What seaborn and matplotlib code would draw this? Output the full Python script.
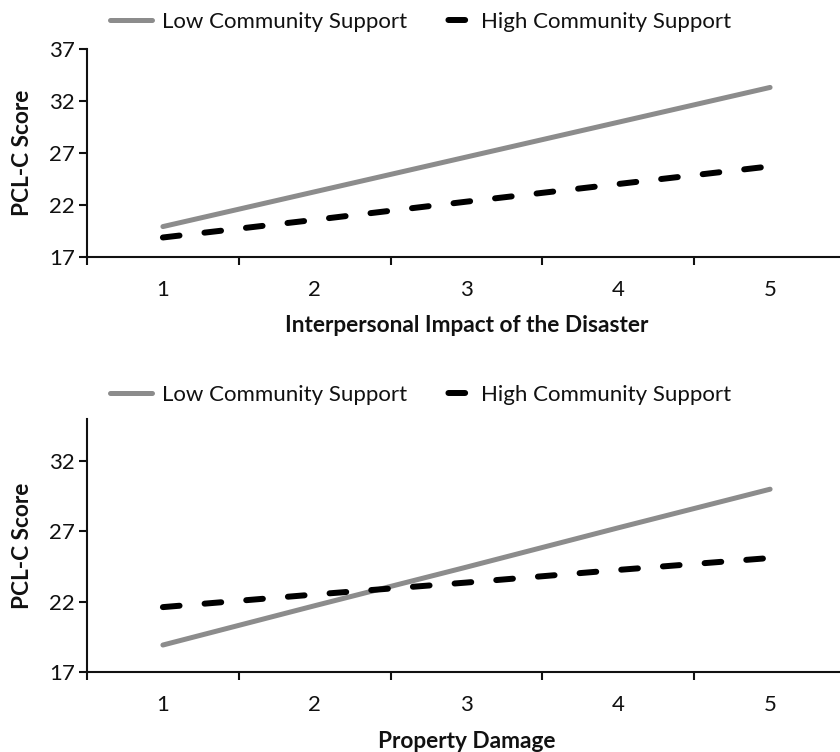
import matplotlib
matplotlib.use("Agg")
import matplotlib.pyplot as plt
from matplotlib.lines import Line2D
from matplotlib.ticker import FixedLocator, NullFormatter
import numpy as np
import pandas as pd
import seaborn as sns

# Predicted PCL-C scores at each level of the moderator
levels = [1, 2, 3, 4, 5]
tick_labels = ["1", "2", "3", "4", "5"]

interp_low = [19.9, 23.25, 26.6, 29.95, 33.3]
interp_high = [18.85, 20.55, 22.3, 24.0, 25.7]

property_low = [18.9, 21.7, 24.45, 27.25, 30.0]
property_high = [21.6, 22.5, 23.35, 24.25, 25.1]

series_names = ["Low Community Support", "High Community Support"]
panel_xlabels = ["Interpersonal Impact of the Disaster", "Property Damage"]
ylabel = "PCL-C Score"
top_yticks = [17, 22, 27, 32, 37]
bottom_yticks = [17, 22, 27, 32]

sns.set_style("white")
plt.rcParams["font.family"] = ["Lato", "DejaVu Sans"]

GRAY = "#8c8c8c"
INK = "#111111"
W, H = 840, 752
fig = plt.figure(figsize=(W / 100, H / 100), dpi=100)
fig.patch.set_facecolor("white")


def px_box(left, top, right, bottom):
    return [left / W, 1 - bottom / H, (right - left) / W, (bottom - top) / H]


ax_top = fig.add_axes(px_box(87, 49, 846, 256.7))
ax_bot = fig.add_axes(px_box(87, 419, 846, 671.7))

LOW_LW = 3.6   # points
HIGH_LW = 4.3
HIGH_DASH = (2.8, 4.2)
TICK_FS = 16
LABEL_FS = 16.3


def draw_panel(ax, low, high, ylim, yticks, xlabel, xlabel_y):
    frame = pd.DataFrame({
        "level": levels * 2,
        "score": low + high,
        "group": [series_names[0]] * len(levels) + [series_names[1]] * len(levels),
    })
    sns.lineplot(data=frame[frame.group == series_names[0]], x="level", y="score",
                 ax=ax, color=GRAY, lw=LOW_LW, solid_capstyle="round",
                 legend=False, errorbar=None)
    sns.lineplot(data=frame[frame.group == series_names[1]], x="level", y="score",
                 ax=ax, color="black", lw=HIGH_LW, dashes=HIGH_DASH,
                 dash_capstyle="round", legend=False, errorbar=None)

    ax.set_xlim(0.5, 5.5)
    ax.set_ylim(*ylim)
    ax.set_facecolor("white")
    for side in ("top", "right"):
        ax.spines[side].set_visible(False)
    for side in ("left", "bottom"):
        ax.spines[side].set_color(INK)
        ax.spines[side].set_linewidth(1.5)

    # category labels sit between the tick marks
    ax.set_xticks(levels)
    ax.set_xticklabels(tick_labels)
    ax.xaxis.set_minor_locator(FixedLocator(np.arange(0.5, 6.0, 1.0)))
    ax.xaxis.set_minor_formatter(NullFormatter())
    ax.tick_params(axis="x", which="major", length=0, pad=17, labelsize=TICK_FS,
                   labelcolor=INK)
    ax.tick_params(axis="x", which="minor", direction="out", length=5.5,
                   width=1.5, color=INK, bottom=True)
    ax.set_yticks(yticks)
    ax.tick_params(axis="y", direction="out", length=5.5, width=1.5, color=INK,
                   pad=3, labelsize=TICK_FS, labelcolor=INK, left=True)
    ax.grid(False)

    ax.set_xlabel(xlabel, fontsize=LABEL_FS, fontweight="bold", color=INK)
    ax.xaxis.label.set_va("center")
    ax.xaxis.set_label_coords(0.5, xlabel_y)
    ax.set_ylabel(ylabel, fontsize=LABEL_FS, fontweight="bold", color=INK)
    ax.yaxis.label.set_va("center")
    ax.yaxis.set_label_coords(-0.0856, 0.5)


draw_panel(ax_top, interp_low, interp_high, (17, 37), top_yticks,
           panel_xlabels[0], -0.329)
draw_panel(ax_bot, property_low, property_high, (17, 35), bottom_yticks,
           panel_xlabels[1], -0.277)

LEG_FS = 16
fs_px = LEG_FS / 0.72
handle_len = 42 / fs_px


def add_key(y_px):
    low_h = Line2D([], [], color=GRAY, lw=LOW_LW, solid_capstyle="round")
    high_h = Line2D([], [], color="black", lw=HIGH_LW, dash_capstyle="round",
                    linestyle=(3.58, HIGH_DASH))
    for handle, name, x_px in ((low_h, series_names[0], 109.5),
                               (high_h, series_names[1], 428.5)):
        leg = fig.legend([handle], [name], loc="center left",
                         bbox_to_anchor=(x_px / W, 1 - y_px / H),
                         frameon=False, fontsize=LEG_FS, handlelength=handle_len,
                         handletextpad=10.5 / fs_px, borderpad=0,
                         borderaxespad=0)
        for t in leg.get_texts():
            t.set_color(INK)


add_key(22)
add_key(395)

fig.savefig("out.png", dpi=100, facecolor="white")
